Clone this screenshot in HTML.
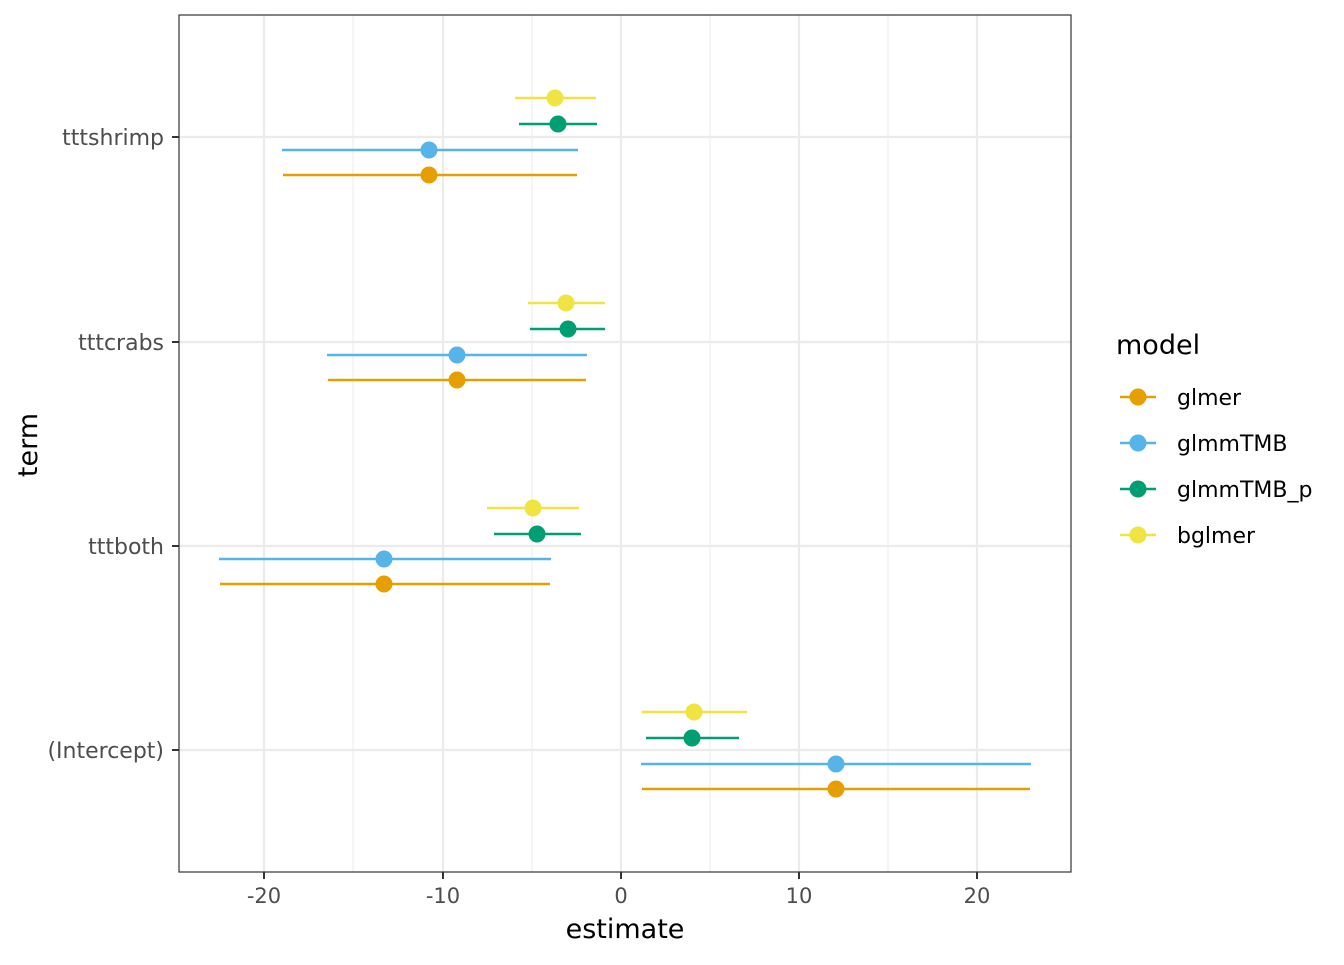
<!DOCTYPE html>
<html><head><meta charset="utf-8"><style>body{margin:0;background:#fff}</style></head><body>
<svg width="1344" height="960" xmlns="http://www.w3.org/2000/svg" font-family="'DejaVu Sans','Liberation Sans',sans-serif">
<rect width="1344" height="960" fill="#fff"/>
<g stroke="#ebebeb" stroke-width="1">
<line x1="353" y1="15" x2="353" y2="872"/><line x1="532" y1="15" x2="532" y2="872"/><line x1="710" y1="15" x2="710" y2="872"/><line x1="888" y1="15" x2="888" y2="872"/>
</g>
<g stroke="#ebebeb" stroke-width="2.2">
<line x1="264" y1="15" x2="264" y2="872"/><line x1="443" y1="15" x2="443" y2="872"/><line x1="621" y1="15" x2="621" y2="872"/><line x1="799" y1="15" x2="799" y2="872"/><line x1="977" y1="15" x2="977" y2="872"/>
<line x1="179" y1="137" x2="1071" y2="137"/><line x1="179" y1="342" x2="1071" y2="342"/><line x1="179" y1="546" x2="1071" y2="546"/><line x1="179" y1="750" x2="1071" y2="750"/>
</g>
<g stroke-width="2.4">
<line x1="515" y1="98" x2="596" y2="98" stroke="#F0E442"/><circle cx="555" cy="98" r="8.5" fill="#F0E442"/>
<line x1="519" y1="124" x2="597" y2="124" stroke="#009E73"/><circle cx="558" cy="124" r="8.5" fill="#009E73"/>
<line x1="282" y1="150" x2="578" y2="150" stroke="#56B4E9"/><circle cx="429" cy="150" r="8.5" fill="#56B4E9"/>
<line x1="283" y1="175" x2="577" y2="175" stroke="#E69F00"/><circle cx="429" cy="175" r="8.5" fill="#E69F00"/>

<line x1="528" y1="303" x2="605" y2="303" stroke="#F0E442"/><circle cx="566" cy="303" r="8.5" fill="#F0E442"/>
<line x1="530" y1="329" x2="605" y2="329" stroke="#009E73"/><circle cx="568" cy="329" r="8.5" fill="#009E73"/>
<line x1="327" y1="355" x2="587" y2="355" stroke="#56B4E9"/><circle cx="457" cy="355" r="8.5" fill="#56B4E9"/>
<line x1="328" y1="380" x2="586" y2="380" stroke="#E69F00"/><circle cx="457" cy="380" r="8.5" fill="#E69F00"/>

<line x1="487" y1="508" x2="579" y2="508" stroke="#F0E442"/><circle cx="533" cy="508" r="8.5" fill="#F0E442"/>
<line x1="494" y1="534" x2="581" y2="534" stroke="#009E73"/><circle cx="537" cy="534" r="8.5" fill="#009E73"/>
<line x1="219" y1="559" x2="551" y2="559" stroke="#56B4E9"/><circle cx="384" cy="559" r="8.5" fill="#56B4E9"/>
<line x1="220" y1="584" x2="550" y2="584" stroke="#E69F00"/><circle cx="384" cy="584" r="8.5" fill="#E69F00"/>

<line x1="642" y1="712" x2="747" y2="712" stroke="#F0E442"/><circle cx="694" cy="712" r="8.5" fill="#F0E442"/>
<line x1="646" y1="738" x2="739" y2="738" stroke="#009E73"/><circle cx="692" cy="738" r="8.5" fill="#009E73"/>
<line x1="641" y1="764" x2="1031" y2="764" stroke="#56B4E9"/><circle cx="836" cy="764" r="8.5" fill="#56B4E9"/>
<line x1="642" y1="789" x2="1030" y2="789" stroke="#E69F00"/><circle cx="836" cy="789" r="8.5" fill="#E69F00"/>
</g>
<rect x="179" y="15" width="892" height="857" fill="none" stroke="#333" stroke-width="1.2"/>
<g stroke="#333" stroke-width="2">
<line x1="172" y1="137" x2="179" y2="137"/><line x1="172" y1="342" x2="179" y2="342"/><line x1="172" y1="546" x2="179" y2="546"/><line x1="172" y1="750" x2="179" y2="750"/>
<line x1="264" y1="872" x2="264" y2="879"/><line x1="443" y1="872" x2="443" y2="879"/><line x1="621" y1="872" x2="621" y2="879"/><line x1="799" y1="872" x2="799" y2="879"/><line x1="977" y1="872" x2="977" y2="879"/>
</g>
<g fill="#4d4d4d" font-size="22" text-anchor="end">
<text x="164" y="145">tttshrimp</text><text x="164" y="350">tttcrabs</text><text x="164" y="554">tttboth</text><text x="164" y="758">(Intercept)</text>
</g>
<g fill="#4d4d4d" font-size="21" text-anchor="middle">
<text x="264" y="903">-20</text><text x="443" y="903">-10</text><text x="621" y="903">0</text><text x="799" y="903">10</text><text x="977" y="903">20</text>
</g>
<text x="625" y="938" font-size="27" text-anchor="middle">estimate</text>
<text transform="translate(37,445) rotate(-90)" font-size="27" text-anchor="middle">term</text>
<text x="1116" y="354" font-size="27">model</text>
<g stroke-width="2.4">
<line x1="1120" y1="397" x2="1156" y2="397" stroke="#E69F00"/><circle cx="1138" cy="397" r="8.5" fill="#E69F00"/>
<line x1="1120" y1="443" x2="1156" y2="443" stroke="#56B4E9"/><circle cx="1138" cy="443" r="8.5" fill="#56B4E9"/>
<line x1="1120" y1="489" x2="1156" y2="489" stroke="#009E73"/><circle cx="1138" cy="489" r="8.5" fill="#009E73"/>
<line x1="1120" y1="535" x2="1156" y2="535" stroke="#F0E442"/><circle cx="1138" cy="535" r="8.5" fill="#F0E442"/>
</g>
<g font-size="22">
<text x="1177" y="405">glmer</text><text x="1177" y="451">glmmTMB</text><text x="1177" y="497">glmmTMB_p</text><text x="1177" y="543">bglmer</text>
</g>
</svg>
</body></html>
